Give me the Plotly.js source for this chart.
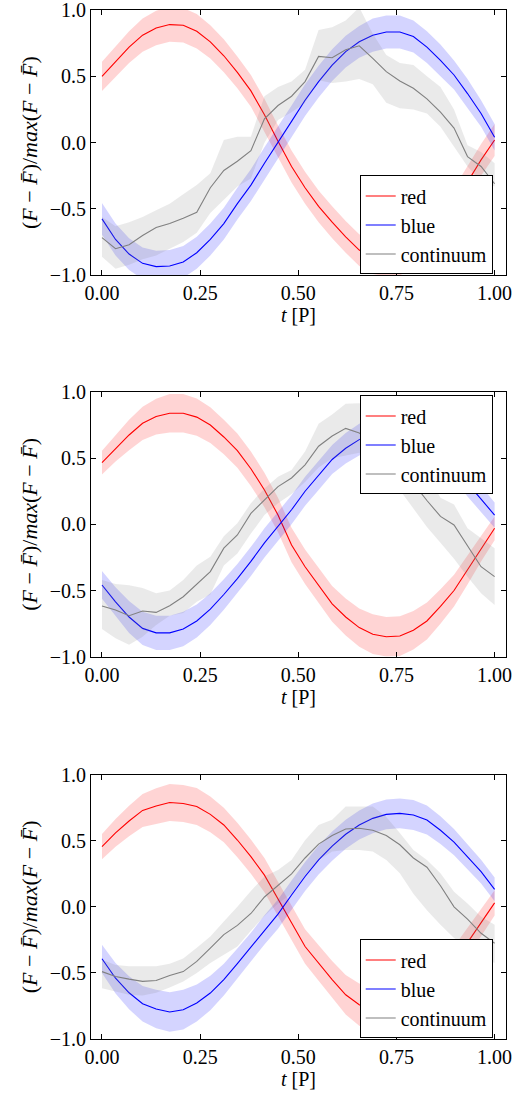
<!DOCTYPE html>
<html>
<head>
<meta charset="utf-8">
<script src="https://cdn.plot.ly/plotly-3.0.1.min.js"></script>
<style>
  html, body { margin: 0; padding: 0; background: #ffffff; }
  #chart { width: 528px; height: 1093px; }
</style>
</head>
<body>
<div id="chart"></div>
<script>
// phase (t in units of period P)
var t = [0, 0.0345, 0.069, 0.1034, 0.1379, 0.1724, 0.2069, 0.2414, 0.2759, 0.3103,
         0.3448, 0.3793, 0.4138, 0.4483, 0.4828, 0.5172, 0.5517, 0.5862, 0.6207, 0.6552,
         0.6897, 0.7241, 0.7586, 0.7931, 0.8276, 0.8621, 0.8966, 0.931, 0.9655, 1.0];

var xTicks = [0, 0.25, 0.5, 0.75, 1.0];
var yTicks = [-1.0, -0.5, 0.0, 0.5, 1.0];
var seriesNames = ["red", "blue", "continuum"];

// ---- panel 1 ----
var red1 = [0.50, 0.61, 0.72, 0.81, 0.865, 0.89, 0.885, 0.84, 0.76, 0.655, 0.53, 0.39, 0.21, 0.01, -0.18,
            -0.34, -0.48, -0.60, -0.71, -0.81, -0.87, -0.89, -0.88, -0.83, -0.76, -0.63, -0.46, -0.29, -0.13, 0.02];
var red1Err = [0.11, 0.115, 0.12, 0.125, 0.13, 0.13, 0.13, 0.13, 0.125, 0.125, 0.12, 0.12, 0.12, 0.12, 0.12,
               0.12, 0.12, 0.12, 0.12, 0.12, 0.12, 0.12, 0.12, 0.12, 0.12, 0.12, 0.12, 0.12, 0.12, 0.12];
var blue1 = [-0.575, -0.73, -0.84, -0.91, -0.935, -0.93, -0.90, -0.83, -0.73, -0.61, -0.46, -0.32, -0.155, 0.0, 0.16,
             0.32, 0.46, 0.585, 0.686, 0.76, 0.81, 0.834, 0.834, 0.80, 0.72, 0.62, 0.51, 0.37, 0.22, 0.04];
var blue1Err = [0.12, 0.12, 0.12, 0.12, 0.12, 0.12, 0.12, 0.12, 0.12, 0.12, 0.12, 0.12, 0.12, 0.12, 0.12,
                0.12, 0.12, 0.12, 0.12, 0.12, 0.125, 0.125, 0.125, 0.12, 0.12, 0.12, 0.11, 0.11, 0.10, 0.10];
var cont1 = [-0.716, -0.80, -0.77, -0.70, -0.64, -0.61, -0.57, -0.525, -0.34, -0.21, -0.14, -0.06, 0.18, 0.28, 0.35,
             0.46, 0.65, 0.64, 0.70, 0.73, 0.635, 0.535, 0.465, 0.41, 0.33, 0.23, 0.11, -0.105, -0.18, -0.31];
var cont1Hi = [-0.56, -0.63, -0.60, -0.56, -0.51, -0.46, -0.39, -0.32, -0.23, 0.02, 0.045, 0.045, 0.35, 0.42, 0.46,
               0.55, 0.85, 0.87, 0.92, 1.02, 0.82, 0.66, 0.60, 0.585, 0.50, 0.42, 0.25, -0.02, -0.07, -0.155];
var cont1Lo = [-0.86, -0.95, -0.92, -0.88, -0.85, -0.80, -0.75, -0.68, -0.53, -0.43, -0.33, -0.27, 0.0, 0.17, 0.23,
               0.30, 0.47, 0.45, 0.46, 0.48, 0.44, 0.30, 0.26, 0.25, 0.22, 0.12, -0.03, -0.18, -0.29, -0.33];

// ---- panel 2 ----
var red2 = [0.466, 0.574, 0.675, 0.763, 0.814, 0.839, 0.839, 0.81, 0.75, 0.66, 0.557, 0.42, 0.26, 0.07, -0.156,
            -0.32, -0.46, -0.60, -0.70, -0.78, -0.83, -0.849, -0.844, -0.80, -0.73, -0.62, -0.50, -0.345, -0.18, -0.03];
var red2Err = [0.09, 0.10, 0.115, 0.125, 0.135, 0.145, 0.145, 0.14, 0.135, 0.13, 0.13, 0.13, 0.13, 0.13, 0.13,
               0.13, 0.13, 0.135, 0.14, 0.145, 0.15, 0.15, 0.15, 0.145, 0.14, 0.13, 0.12, 0.11, 0.10, 0.09];
var blue2 = [-0.458, -0.585, -0.70, -0.786, -0.82, -0.82, -0.79, -0.73, -0.64, -0.53, -0.41, -0.28, -0.14, -0.017, 0.11,
             0.25, 0.37, 0.49, 0.575, 0.64, 0.69, 0.72, 0.73, 0.71, 0.66, 0.57, 0.45, 0.31, 0.19, 0.07];
var blue2Err = [0.105, 0.11, 0.12, 0.125, 0.13, 0.13, 0.13, 0.125, 0.12, 0.115, 0.11, 0.11, 0.11, 0.11, 0.11,
                0.11, 0.11, 0.11, 0.115, 0.12, 0.12, 0.12, 0.12, 0.12, 0.12, 0.115, 0.11, 0.10, 0.10, 0.095];
var cont2 = [-0.617, -0.647, -0.69, -0.655, -0.665, -0.615, -0.547, -0.45, -0.357, -0.18, -0.08, 0.083, 0.184, 0.285, 0.35,
             0.45, 0.59, 0.667, 0.725, 0.69, 0.62, 0.54, 0.42, 0.31, 0.18, 0.06, -0.005, -0.16, -0.32, -0.395];
var cont2Hi = [-0.42, -0.45, -0.46, -0.48, -0.52, -0.50, -0.42, -0.31, -0.245, -0.09, 0.008, 0.16, 0.27, 0.36, 0.41,
               0.55, 0.76, 0.83, 0.91, 0.915, 0.88, 0.80, 0.70, 0.50, 0.38, 0.20, 0.15, -0.03, -0.105, -0.18];
var cont2Lo = [-0.79, -0.86, -0.91, -0.85, -0.76, -0.69, -0.67, -0.585, -0.53, -0.31, -0.22, -0.07, 0.07, 0.16, 0.23,
               0.32, 0.43, 0.50, 0.52, 0.54, 0.46, 0.38, 0.26, 0.12, -0.02, -0.14, -0.26, -0.395, -0.52, -0.61];

// ---- panel 3 ----
var red3 = [0.456, 0.56, 0.65, 0.73, 0.763, 0.79, 0.783, 0.76, 0.70, 0.62, 0.506, 0.38, 0.24, 0.065, -0.12,
            -0.30, -0.425, -0.55, -0.665, -0.74, -0.78, -0.80, -0.79, -0.75, -0.67, -0.56, -0.42, -0.27, -0.12, 0.03];
var red3Err = [0.095, 0.105, 0.115, 0.125, 0.135, 0.14, 0.14, 0.14, 0.135, 0.13, 0.13, 0.13, 0.13, 0.13, 0.13,
               0.13, 0.135, 0.14, 0.15, 0.16, 0.17, 0.175, 0.175, 0.17, 0.16, 0.14, 0.12, 0.11, 0.10, 0.095];
var blue3 = [-0.393, -0.54, -0.65, -0.733, -0.773, -0.796, -0.778, -0.728, -0.652, -0.55, -0.43, -0.305, -0.174, -0.055, 0.09,
             0.23, 0.355, 0.46, 0.55, 0.62, 0.67, 0.70, 0.708, 0.695, 0.657, 0.58, 0.49, 0.38, 0.267, 0.133];
var blue3Err = [0.107, 0.115, 0.125, 0.135, 0.145, 0.15, 0.15, 0.14, 0.13, 0.12, 0.115, 0.11, 0.11, 0.11, 0.11,
                0.11, 0.11, 0.11, 0.11, 0.11, 0.113, 0.113, 0.113, 0.113, 0.11, 0.105, 0.10, 0.095, 0.09, 0.09];
var cont3 = [-0.49, -0.527, -0.547, -0.564, -0.557, -0.52, -0.49, -0.413, -0.312, -0.21, -0.14, -0.05, 0.075, 0.16, 0.25,
             0.37, 0.475, 0.54, 0.59, 0.595, 0.58, 0.54, 0.47, 0.37, 0.30, 0.16, 0.0, -0.093, -0.2, -0.275];
var cont3Hi = [-0.40, -0.44, -0.45, -0.45, -0.45, -0.43, -0.39, -0.31, -0.224, -0.11, 0.0, 0.12, 0.23, 0.28, 0.355,
               0.505, 0.62, 0.66, 0.76, 0.76, 0.76, 0.68, 0.56, 0.43, 0.355, 0.255, 0.115, 0.025, -0.075, -0.135];
var cont3Lo = [-0.615, -0.64, -0.665, -0.67, -0.65, -0.61, -0.565, -0.50, -0.425, -0.36, -0.30, -0.18, -0.07, 0.025, 0.10,
               0.24, 0.355, 0.42, 0.43, 0.43, 0.42, 0.355, 0.255, 0.10, -0.025, -0.136, -0.236, -0.30, -0.375, -0.425];

// ---- styling ----
var lineColors = {red: "#ff0000", blue: "#0000ff", continuum: "#808080"};
var bandColors = {red: "rgba(255,0,0,0.17)", blue: "rgba(0,0,255,0.17)", continuum: "rgba(128,128,128,0.17)"};
var FONT = "Liberation Serif";

function sub(a, b) { return a.map(function (v, i) { return v - b[i]; }); }
function add(a, b) { return a.map(function (v, i) { return v + b[i]; }); }

var traces = [];
function addSeries(name, y, lo, hi, xa, ya, legendId) {
  // shaded band as a closed polygon: upper edge forward, lower edge backward
  var bx = t.concat(t.slice().reverse());
  var by = hi.concat(lo.slice().reverse());
  traces.push({x: bx, y: by, xaxis: xa, yaxis: ya, type: "scatter", mode: "lines",
               line: {width: 0, color: bandColors[name]}, fill: "toself", fillcolor: bandColors[name],
               showlegend: false, hoverinfo: "skip", legend: legendId});
  traces.push({x: t, y: y, xaxis: xa, yaxis: ya, type: "scatter", mode: "lines", name: name,
               line: {width: 1.1, color: lineColors[name]}, showlegend: true, legend: legendId});
}

var panels = [
  {red: red1, redErr: red1Err, blue: blue1, blueErr: blue1Err, cont: cont1, contLo: cont1Lo, contHi: cont1Hi, xa: "x", ya: "y", lg: "legend"},
  {red: red2, redErr: red2Err, blue: blue2, blueErr: blue2Err, cont: cont2, contLo: cont2Lo, contHi: cont2Hi, xa: "x2", ya: "y2", lg: "legend2"},
  {red: red3, redErr: red3Err, blue: blue3, blueErr: blue3Err, cont: cont3, contLo: cont3Lo, contHi: cont3Hi, xa: "x3", ya: "y3", lg: "legend3"}
];
panels.forEach(function (p) {
  addSeries(seriesNames[0], p.red, sub(p.red, p.redErr), add(p.red, p.redErr), p.xa, p.ya, p.lg);
  addSeries(seriesNames[1], p.blue, sub(p.blue, p.blueErr), add(p.blue, p.blueErr), p.xa, p.ya, p.lg);
  addSeries(seriesNames[2], p.cont, p.contLo, p.contHi, p.xa, p.ya, p.lg);
});

var yTitle = "(<i>F</i> \u2212 <i>F\u0304</i>)/<i>max</i>(<i>F</i> \u2212 <i>F\u0304</i>)";
var xTitle = "<i>t</i> [P]";

function xAxis(anchor) {
  return {anchor: anchor, domain: [0, 1], range: [-0.028, 1.029], tickvals: xTicks, tickformat: ".2f",
          ticks: "inside", ticklen: 5, tickwidth: 1, tickcolor: "#000", showline: true, linecolor: "#000",
          linewidth: 1, mirror: "ticks", showgrid: false, zeroline: false, ticklabeloverflow: "allow",
          tickfont: {family: FONT, size: 20, color: "#000"},
          title: {text: xTitle, font: {family: FONT, size: 20, color: "#000"}, standoff: 2}};
}
function yAxis(anchor, dom) {
  return {anchor: anchor, domain: dom, range: [-1, 1], tickvals: yTicks, tickformat: ".1f",
          ticks: "inside", ticklen: 5, tickwidth: 1, tickcolor: "#000", showline: true, linecolor: "#000",
          linewidth: 1, mirror: "ticks", showgrid: false, zeroline: false, ticklabeloverflow: "allow",
          tickfont: {family: FONT, size: 20, color: "#000"},
          title: {text: yTitle, font: {family: FONT, size: 22, color: "#000"}}};
}
function legendBox(y) {
  return {x: 0.6475, y: y, xanchor: "left", yanchor: "top", bgcolor: "#ffffff", bordercolor: "#000",
          borderwidth: 1, traceorder: "normal", font: {family: FONT, size: 20, color: "#000"}, tracegroupgap: 0};
}

var layout = {
  width: 528, height: 1093,
  margin: {l: 91, r: 22, t: 10, b: 54},
  paper_bgcolor: "#ffffff", plot_bgcolor: "#ffffff",
  font: {family: FONT, size: 20, color: "#000"},
  showlegend: true,
  xaxis: xAxis("y"), yaxis: yAxis("x", [0.7422, 1]),
  xaxis2: xAxis("y2"), yaxis2: yAxis("x2", [0.3715, 0.6288]),
  xaxis3: xAxis("y3"), yaxis3: yAxis("x3", [0, 0.2568]),
  legend: legendBox(0.8392), legend2: legendBox(0.6254), legend3: legendBox(0.09673)
};

Plotly.newPlot("chart", traces, layout, {displayModeBar: false, staticPlot: true});
</script>
</body>
</html>
